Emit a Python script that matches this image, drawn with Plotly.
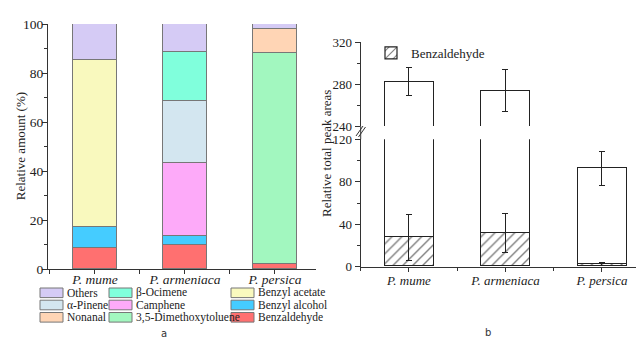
import plotly.graph_objects as go

# ---------------- data: panel a ----------------
categories = ["P. mume", "P. armeniaca", "P. persica"]
components = ["Benzaldehyde", "Benzyl alcohol", "Benzyl acetate", "Camphene",
              "α-Pinene", "β-Ocimene", "3,5-Dimethoxytoluene", "Nonanal", "Others"]
benzaldehyde_pct = [8.6, 9.9, 2.0]
benzyl_alcohol_pct = [8.5, 3.4, None]
benzyl_acetate_pct = [68.1, None, None]
camphene_pct = [None, 30.1, None]
alpha_pinene_pct = [None, 25.3, None]
beta_ocimene_pct = [None, 19.9, None]
dimethoxytoluene_pct = [None, None, 86.2]
nonanal_pct = [None, None, 9.8]
others_pct = [14.8, 11.4, 2.0]
component_values = [benzaldehyde_pct, benzyl_alcohol_pct, benzyl_acetate_pct, camphene_pct,
                    alpha_pinene_pct, beta_ocimene_pct, dimethoxytoluene_pct, nonanal_pct, others_pct]
component_colors = ["#FF7070", "#45CCFF", "#F9F9BE", "#FDAAF9",
                    "#D3E6F0", "#80FFDC", "#A2F7BF", "#FFD5B5", "#D5CBF5"]
legend_order = ["Others", "β-Ocimene", "Benzyl acetate",
                "α-Pinene", "Camphene", "Benzyl alcohol",
                "Nonanal", "3,5-Dimethoxytoluene", "Benzaldehyde"]

# ---------------- data: panel b ----------------
total_area = [282.2, 273.6, 92.8]
total_err = [13.5, 20.0, 16.0]
benz_area = [27.3, 31.5, 2.5]
benz_err = [21.5, 18.5, 1.0]

# page has an 8px body margin: figure sits at (8, 8)
OFF = 8
W, H = 644 - OFF, 338 - OFF
def px(x):
    return (x - OFF) / W
def py(y):
    return 1 - (y - OFF) / H

SERIF = "Liberation Serif"
xpos = list(range(len(categories)))
ticktext = ["<i>%s</i>" % c for c in categories]

fig = go.Figure()

# panel a stacked bars
for name, vals, col in zip(components, component_values, component_colors):
    fig.add_trace(go.Bar(x=xpos, y=vals, name=name, marker=dict(color=col, line=dict(color="#777777", width=1)),
                         width=0.49, showlegend=False, xaxis="x", yaxis="y"))

# panel b lower part
remainder = [t - b for t, b in zip(total_area, benz_area)]
bar_line = dict(color="#222222", width=1.2)
fig.add_trace(go.Bar(x=xpos, y=benz_area, name="Benzaldehyde", width=0.51,
                     marker=dict(color="white", line=bar_line,
                                 pattern=dict(shape="/", fgcolor="#000000", bgcolor="white", size=7, solidity=0.2)),
                     error_y=dict(type="data", array=benz_err, color="#222222", thickness=1, width=3),
                     xaxis="x2", yaxis="y2", showlegend=True, legend="legend"))
fig.add_trace(go.Bar(x=xpos, y=remainder, width=0.51,
                     marker=dict(color="rgba(0,0,0,0)", line=bar_line),
                     error_y=dict(type="data", array=total_err, color="#222222", thickness=1, width=3),
                     xaxis="x2", yaxis="y2", showlegend=False))
# panel b upper part
fig.add_trace(go.Bar(x=xpos, y=benz_area, width=0.51,
                     marker=dict(color="white", line=bar_line),
                     xaxis="x3", yaxis="y3", showlegend=False))
fig.add_trace(go.Bar(x=xpos, y=remainder, width=0.51,
                     marker=dict(color="rgba(0,0,0,0)", line=bar_line),
                     error_y=dict(type="data", array=total_err, color="#222222", thickness=1, width=3),
                     xaxis="x3", yaxis="y3", showlegend=False))

axcol = "#333333"
common_y = dict(showline=True, linecolor=axcol, linewidth=1, ticks="outside", ticklen=5, tickcolor=axcol,
                showgrid=False, zeroline=False, automargin=False)

fig.update_layout(
    width=W, height=H, margin=dict(l=0, r=0, t=0, b=0),
    paper_bgcolor="white", plot_bgcolor="white", barmode="stack", bargap=0,
    font=dict(family=SERIF),
    xaxis=dict(domain=[px(48), px(316)], range=[-0.522, 2.456], tickvals=xpos, ticktext=ticktext,
               showline=True, linecolor=axcol, ticks="outside", ticklen=4, tickcolor=axcol,
               minor=dict(tick0=0.5, dtick=1, ticks="outside", ticklen=4, tickcolor=axcol),
               showgrid=False, zeroline=False, automargin=False, anchor="y", ticklabelstandoff=-6,
               tickfont=dict(family=SERIF, size=13.5, color="#222")),
    yaxis=dict(domain=[py(269), py(24)], range=[0, 100], dtick=20, anchor="x", ticklabelstandoff=-4,
               minor=dict(dtick=10, ticks="outside", ticklen=3, tickcolor=axcol),
               tickfont=dict(family=SERIF, size=13.5, color="#222"),
               **common_y),
    xaxis2=dict(domain=[px(360.7), px(643)], range=[-0.50, 2.425], tickvals=xpos, ticktext=ticktext,
                showline=True, linecolor=axcol, ticks="outside", ticklen=4, tickcolor=axcol,
                minor=dict(tick0=0.5, dtick=1, ticks="outside", ticklen=3, tickcolor=axcol),
                showgrid=False, zeroline=False, automargin=False, anchor="y2", ticklabelstandoff=-2,
                tickfont=dict(family=SERIF, size=13, color="#222")),
    yaxis2=dict(domain=[py(266.7), py(139.3)], range=[0, 120], dtick=40, anchor="x2",
                minor=dict(dtick=20, ticks="outside", ticklen=3, tickcolor=axcol),
                tickfont=dict(family=SERIF, size=13, color="#222"),
                **common_y),
    xaxis3=dict(domain=[px(360.7), px(643)], range=[-0.50, 2.425], matches="x2", visible=False, anchor="y3"),
    yaxis3=dict(domain=[py(126), py(42.3)], range=[240, 320], dtick=40, anchor="x3",
                minor=dict(dtick=20, ticks="outside", ticklen=3, tickcolor=axcol),
                tickfont=dict(family=SERIF, size=13, color="#222"),
                **common_y),
    legend=dict(x=px(371), y=py(38), xanchor="left", yanchor="top", bgcolor="rgba(0,0,0,0)",
                font=dict(family=SERIF, size=13, color="#222"), itemwidth=30, tracegroupgap=0),
)

# axis titles as annotations
fig.add_annotation(x=px(20.7), y=py(146.5), xref="paper", yref="paper", text="Relative amount (%)",
                   xanchor="center", yanchor="middle",
                   textangle=-90, showarrow=False, font=dict(family=SERIF, size=13, color="#222"))
fig.add_annotation(x=px(326), y=py(154), xref="paper", yref="paper", text="Relative total peak areas",
                   xanchor="center", yanchor="middle",
                   textangle=-90, showarrow=False, font=dict(family=SERIF, size=13, color="#222"))

# axis break: connect axis line and draw // marks
fig.add_shape(type="line", xref="paper", yref="paper", x0=px(360.7), x1=px(360.7), y0=py(139.3), y1=py(126),
              line=dict(color=axcol, width=1))
for dx in (0, 2.5):
    fig.add_shape(type="line", xref="paper", yref="paper", x0=px(356 + dx), x1=px(363 + dx),
                  y0=py(136 + dx * 0.4), y1=py(126 + dx * 0.4), line=dict(color=axcol, width=1))

# manual legend for panel a (3 columns x 3 rows)
col_x = [40, 109, 231]
row_y = [292.8, 305.0, 317.3]
color_of = dict(zip(components, component_colors))
for i, name in enumerate(legend_order):
    cx = col_x[i % 3]
    cy = row_y[i // 3]
    fig.add_shape(type="rect", xref="paper", yref="paper", x0=px(cx), x1=px(cx + 23),
                  y0=py(cy + 4.8), y1=py(cy - 4.8), fillcolor=color_of[name],
                  line=dict(color="#777777", width=1))
    fig.add_annotation(x=px(cx + 25), y=py(cy), xref="paper", yref="paper", text=name, showarrow=False,
                       xanchor="left", yanchor="middle", font=dict(family=SERIF, size=11.5, color="#222"))

# panel labels
fig.add_annotation(x=px(164), y=py(333), xref="paper", yref="paper", text="a", showarrow=False,
                   xanchor="center", yanchor="middle",
                   font=dict(family="DejaVu Sans", size=10, color="#333"))
fig.add_annotation(x=px(488), y=py(332), xref="paper", yref="paper", text="b", showarrow=False,
                   xanchor="center", yanchor="middle",
                   font=dict(family="DejaVu Sans", size=10, color="#333"))

fig.write_html("out.html")
